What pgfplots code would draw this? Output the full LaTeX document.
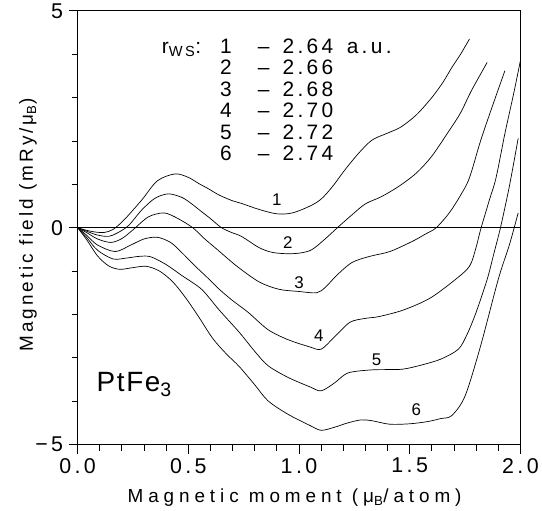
\documentclass[border=0pt]{standalone}
\usepackage{fontspec}
\setmainfont{Liberation Sans}[LetterSpace=16]
\usepackage{pgfplots}
\pgfplotsset{compat=1.18}
\begin{document}
\begin{tikzpicture}
\begin{axis}[scale only axis, width=445pt, height=436pt,
  xmin=0, xmax=2, ymin=-5, ymax=5,
  xtick={0,0.5,1,1.5,2}, xticklabels={0.0,0.5,1.0,1.5,2.0},
  ytick={-5,0,5}, yticklabels={−5,0,5},
  minor x tick num=4, minor y tick num=4,
  tick align=outside, xtick pos=left, ytick pos=left,
  major tick length=9pt, minor tick length=6pt,
  tick style={black, line width=0.8pt},
  axis line style={black, line width=1pt},
  /pgf/number format/assume math mode=true,
  ticklabel style={font=\fontsize{21.5}{24}\selectfont},
  xticklabel style={yshift=-1pt},
  yticklabel style={xshift=-2pt},
  xlabel={Magnetic moment (μ\textsubscript{B}/atom)},
  ylabel={Magnetic field (mRy/μ\textsubscript{B})},
  label style={font=\fontsize{19}{22}\selectfont},
  xlabel style={at={(axis description cs:0.49,-0.133)}, anchor=base, font=\fontsize{19}{22}\selectfont\addfontfeature{LetterSpace=26}},
  ylabel style={at={(axis description cs:-0.1011,0.506)}, anchor=base},
  every axis plot/.append style={line width=0.7pt},
  every axis plot post/.append style={black, solid, mark=none},
  clip=false]
\addplot[sharp plot] coordinates {(0,0) (2,0)};
% top and right edges of the frame
\addplot[sharp plot, line width=1.2pt, line join=miter] coordinates {(0,5) (1,5) (2,5) (2,0) (2,-5)};
% curve 1
\addplot[smooth, tension=0.5] coordinates {(0,0) (0.04,-0.06) (0.08,-0.10) (0.12,-0.11) (0.16,-0.04) (0.21,0.18) (0.29,0.64) (0.36,1.08) (0.44,1.24) (0.50,1.16) (0.55,1.01) (0.59,0.90) (0.64,0.75) (0.70,0.62) (0.74,0.56) (0.82,0.42) (0.90,0.32) (0.97,0.34) (1.05,0.50) (1.10,0.66) (1.15,0.94) (1.21,1.35) (1.27,1.72) (1.33,2.02) (1.40,2.18) (1.46,2.32) (1.53,2.60) (1.60,3.0) (1.65,3.35) (1.69,3.69) (1.73,4.0) (1.77,4.35)};
% curve 2
\addplot[smooth, tension=0.5] coordinates {(0,0) (0.04,-0.08) (0.09,-0.17) (0.14,-0.20) (0.18,-0.12) (0.23,0.05) (0.29,0.41) (0.35,0.68) (0.41,0.78) (0.47,0.70) (0.51,0.57) (0.55,0.41) (0.60,0.21) (0.65,0.0) (0.70,-0.12) (0.74,-0.20) (0.82,-0.46) (0.88,-0.57) (0.95,-0.60) (1.01,-0.58) (1.06,-0.50) (1.12,-0.25) (1.18,0.03) (1.24,0.30) (1.30,0.55) (1.37,0.71) (1.45,0.95) (1.53,1.26) (1.60,1.65) (1.68,2.25) (1.73,2.65) (1.78,3.17) (1.85,3.81)};
% curve 3
\addplot[smooth, tension=0.5] coordinates {(0,0) (0.04,-0.11) (0.09,-0.26) (0.15,-0.34) (0.20,-0.25) (0.25,-0.05) (0.32,0.25) (0.39,0.34) (0.45,0.22) (0.52,0.0) (0.57,-0.24) (0.63,-0.50) (0.72,-0.89) (0.82,-1.25) (0.91,-1.42) (1.00,-1.47) (1.08,-1.50) (1.12,-1.37) (1.17,-1.10) (1.24,-0.80) (1.32,-0.66) (1.41,-0.55) (1.51,-0.32) (1.57,-0.15) (1.62,0.0) (1.68,0.35) (1.73,0.75) (1.77,1.15) (1.82,2.0) (1.87,2.75) (1.93,3.62)};
% curve 4
\addplot[smooth, tension=0.5] coordinates {(0,0) (0.04,-0.17) (0.09,-0.40) (0.17,-0.55) (0.24,-0.40) (0.30,-0.26) (0.36,-0.22) (0.42,-0.34) (0.47,-0.57) (0.53,-0.88) (0.58,-1.12) (0.64,-1.42) (0.70,-1.68) (0.77,-1.95) (0.86,-2.35) (0.95,-2.58) (1.05,-2.75) (1.10,-2.80) (1.16,-2.52) (1.23,-2.18) (1.30,-2.09) (1.36,-2.05) (1.47,-1.90) (1.59,-1.63) (1.70,-1.22) (1.77,-0.89) (1.80,-0.45) (1.82,-0.05) (1.86,0.64) (1.89,1.15) (1.93,2.17) (1.97,3.10) (2.0,3.85)};
% curve 5
\addplot[smooth, tension=0.5] coordinates {(0,0) (0.04,-0.22) (0.09,-0.52) (0.16,-0.72) (0.22,-0.70) (0.28,-0.66) (0.33,-0.67) (0.40,-0.85) (0.47,-1.10) (0.56,-1.42) (0.64,-1.90) (0.73,-2.41) (0.80,-2.85) (0.86,-3.18) (0.95,-3.45) (1.05,-3.67) (1.10,-3.76) (1.16,-3.58) (1.22,-3.35) (1.32,-3.28) (1.40,-3.27) (1.47,-3.26) (1.55,-3.17) (1.64,-3.03) (1.72,-2.80) (1.76,-2.45) (1.80,-1.95) (1.85,-1.19) (1.88,-0.60) (1.91,0.0) (1.95,0.95) (1.99,2.06)};
% curve 6
\addplot[smooth, tension=0.5] coordinates {(0,0) (0.04,-0.27) (0.09,-0.65) (0.14,-0.88) (0.19,-0.96) (0.25,-0.92) (0.31,-0.89) (0.37,-1.0) (0.43,-1.25) (0.49,-1.63) (0.55,-2.08) (0.61,-2.55) (0.67,-2.90) (0.73,-3.20) (0.80,-3.62) (0.86,-3.99) (0.95,-4.30) (1.05,-4.56) (1.10,-4.67) (1.16,-4.60) (1.22,-4.50) (1.28,-4.43) (1.33,-4.45) (1.41,-4.53) (1.50,-4.52) (1.58,-4.47) (1.64,-4.40) (1.69,-4.33) (1.75,-3.88) (1.82,-2.73) (1.90,-1.19) (1.95,-0.40) (1.99,0.34)};
% picture extent
\path (rel axis cs:-0.17528,-0.15138) rectangle (rel axis cs:1.0427,1.02294);
% curve labels
\node[font=\fontsize{17}{20}\selectfont] at (axis cs:0.90,0.64) {1};
\node[font=\fontsize{17}{20}\selectfont] at (axis cs:0.95,-0.34) {2};
\node[font=\fontsize{17}{20}\selectfont] at (axis cs:1.00,-1.26) {3};
\node[font=\fontsize{17}{20}\selectfont] at (axis cs:1.09,-2.50) {4};
\node[font=\fontsize{17}{20}\selectfont] at (axis cs:1.35,-3.05) {5};
\node[font=\fontsize{17}{20}\selectfont] at (axis cs:1.53,-4.20) {6};
% legend block
\node[anchor=base west, inner sep=0pt, font=\fontsize{21}{24}\selectfont] at (axis cs:0.38,4.01) {r\textsubscript{WS}:};
\node[anchor=base west, inner sep=0pt, font=\fontsize{21}{24}\selectfont] at (axis cs:1.215,4.01) {a.u.};
\node[anchor=base, inner sep=0pt, font=\fontsize{21}{24}\selectfont] at (axis cs:0.67,4.01) {1};
\node[anchor=base, inner sep=0pt, font=\fontsize{21}{24}\selectfont] at (axis cs:0.84,4.01) {–};
\node[anchor=base west, inner sep=0pt, font=\fontsize{21}{24}\selectfont] at (axis cs:0.925,4.01) {2.64};
\node[anchor=base, inner sep=0pt, font=\fontsize{21}{24}\selectfont] at (axis cs:0.67,3.52) {2};
\node[anchor=base, inner sep=0pt, font=\fontsize{21}{24}\selectfont] at (axis cs:0.84,3.52) {–};
\node[anchor=base west, inner sep=0pt, font=\fontsize{21}{24}\selectfont] at (axis cs:0.925,3.52) {2.66};
\node[anchor=base, inner sep=0pt, font=\fontsize{21}{24}\selectfont] at (axis cs:0.67,3.03) {3};
\node[anchor=base, inner sep=0pt, font=\fontsize{21}{24}\selectfont] at (axis cs:0.84,3.03) {–};
\node[anchor=base west, inner sep=0pt, font=\fontsize{21}{24}\selectfont] at (axis cs:0.925,3.03) {2.68};
\node[anchor=base, inner sep=0pt, font=\fontsize{21}{24}\selectfont] at (axis cs:0.67,2.53) {4};
\node[anchor=base, inner sep=0pt, font=\fontsize{21}{24}\selectfont] at (axis cs:0.84,2.53) {–};
\node[anchor=base west, inner sep=0pt, font=\fontsize{21}{24}\selectfont] at (axis cs:0.925,2.53) {2.70};
\node[anchor=base, inner sep=0pt, font=\fontsize{21}{24}\selectfont] at (axis cs:0.67,2.04) {5};
\node[anchor=base, inner sep=0pt, font=\fontsize{21}{24}\selectfont] at (axis cs:0.84,2.04) {–};
\node[anchor=base west, inner sep=0pt, font=\fontsize{21}{24}\selectfont] at (axis cs:0.925,2.04) {2.72};
\node[anchor=base, inner sep=0pt, font=\fontsize{21}{24}\selectfont] at (axis cs:0.67,1.54) {6};
\node[anchor=base, inner sep=0pt, font=\fontsize{21}{24}\selectfont] at (axis cs:0.84,1.54) {–};
\node[anchor=base west, inner sep=0pt, font=\fontsize{21}{24}\selectfont] at (axis cs:0.925,1.54) {2.74};
\node[anchor=base west, inner sep=0pt, font=\fontsize{28}{32}\selectfont\addfontfeature{LetterSpace=6}] at (axis cs:0.085,-3.78) {PtFe\textsubscript{3}};
\end{axis}
\end{tikzpicture}
\end{document}
